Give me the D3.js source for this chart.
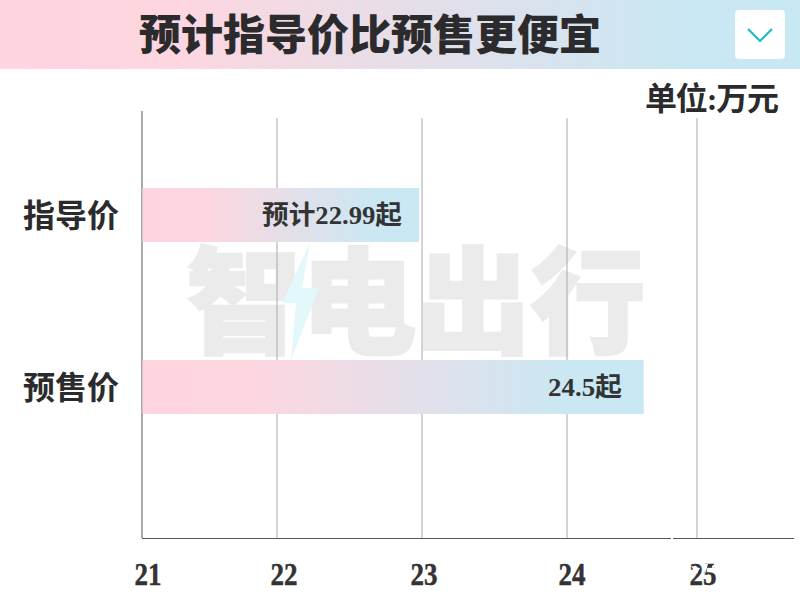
<!DOCTYPE html>
<html><head><meta charset="utf-8">
<script src="https://cdn.jsdelivr.net/npm/d3@7"></script>
<style>html,body{margin:0;padding:0;background:#fff;overflow:hidden}svg{display:block}</style>
</head><body><svg id="c" width="800" height="600"></svg>
<script>
const title = "预计指导价比预售更便宜";
const unit = "单位:万元";
const categories = ["指导价", "预售价"];
const barValues = [22.98, 24.59];
const barLabels = ["预计22.99起", "24.5起"];
const tickValues = [21, 22, 23, 24, 25];
const tickPositions = [142, 277, 422, 567, 697];
const watermark = ["智", "电", "出", "行"];

const svg = d3.select("#c");
const cjk = "'Noto Sans CJK SC','Noto Sans',sans-serif";
const serif = "'Liberation Serif','Noto Sans CJK SC',serif";
const x = d3.scaleLinear().domain(tickValues).range(tickPositions);
const y = d3.scaleBand().domain(categories).range([188, 414]).paddingInner(0.686);

const defs = svg.append("defs");
function grad(id) {
  const g = defs.append("linearGradient").attr("id", id);
  g.append("stop").attr("offset", "0%").attr("stop-color", "#ffd5df");
  g.append("stop").attr("offset", "22%").attr("stop-color", "#fdd6e0");
  g.append("stop").attr("offset", "85%").attr("stop-color", "#cae8f3");
  g.append("stop").attr("offset", "100%").attr("stop-color", "#c8e8f3");
}
grad("hg"); grad("bg");

// header
svg.append("rect").attr("width", 800).attr("height", 69).attr("fill", "url(#hg)");
svg.append("text").attr("x", 370).attr("y", 50).attr("text-anchor", "middle")
  .attr("font-family", cjk).attr("font-weight", 900).attr("font-size", 42)
  .attr("textLength", 462).attr("fill", "#2b2b2d").text(title);
svg.append("rect").attr("x", 735).attr("y", 10).attr("width", 50).attr("height", 49).attr("rx", 4).attr("fill", "#fff");
svg.append("path").attr("d", "M748,29L760,41L772,29").attr("fill", "none").attr("stroke", "#1fb8cc").attr("stroke-width", 2.2);
svg.append("text").attr("x", 779).attr("y", 110).attr("text-anchor", "end")
  .attr("font-family", serif).attr("font-weight", 700).attr("font-size", 32)
  .attr("textLength", 134).attr("fill", "#2b2b2d").text(unit);

// watermark
const wmX = d3.scalePoint().domain(watermark).range([244, 588]);
svg.append("g").selectAll("text").data(watermark).join("text")
  .attr("x", d => wmX(d)).attr("y", 344).attr("text-anchor", "middle")
  .attr("font-family", cjk).attr("font-weight", 900).attr("font-size", 115)
  .attr("fill", "#ebebeb").attr("stroke", "#ebebeb").attr("stroke-width", 2.5).text(d => d);
svg.append("path").attr("d", "M310,243L282,303L296,303L291,360L319,288L302,288Z").attr("fill", "#e3f8fb");

// grid
svg.append("g").selectAll("line").data(tickValues.slice(1)).join("line")
  .attr("x1", d => x(d)).attr("x2", d => x(d)).attr("y1", 118).attr("y2", 538)
  .attr("stroke", "#a8a8a8").attr("stroke-width", 1);
svg.append("line").attr("x1", x(21)).attr("x2", x(21)).attr("y1", 111).attr("y2", 538).attr("stroke", "#555");
svg.append("line").attr("x1", x(21)).attr("x2", 794).attr("y1", 538.5).attr("y2", 538.5).attr("stroke", "#555").attr("stroke-width", 1.2);

// bars
svg.append("g").selectAll("rect").data(categories).join("rect")
  .attr("x", x(21) + 0.5).attr("y", d => y(d))
  .attr("width", (d, i) => x(barValues[i]) - x(21) - 0.5)
  .attr("height", y.bandwidth()).attr("fill", "url(#bg)");

// tick labels
const tickOffsets = [6, 7, 2, 5, 6];
svg.append("g").selectAll("text").data(tickValues).join("text")
  .attr("x", (d, i) => x(d) + tickOffsets[i]).attr("y", 585).attr("text-anchor", "middle")
  .attr("font-family", serif).attr("font-weight", 700).attr("font-size", 32)
  .attr("textLength", 27).attr("lengthAdjust", "spacingAndGlyphs")
  .attr("fill", "#333").attr("stroke", "#333").attr("stroke-width", 0.5).text(d => d);

// scan defects over the last tick label and the axis
svg.append("g").selectAll("path")
  .data(["M691,566L700,568L697,574Z", "M703,564L708,564L705,574Z", "M712,566L716,563L713,572Z", "M671,536h2v5h-2Z"])
  .join("path").attr("d", d => d).attr("fill", "#fff");

// category labels
svg.append("g").selectAll("text").data(categories).join("text")
  .attr("x", 71).attr("y", d => y(d) + y.bandwidth() / 2 + 12).attr("text-anchor", "middle")
  .attr("font-family", serif).attr("font-weight", 700).attr("font-size", 32)
  .attr("fill", "#2b2b2d").text(d => d);

// value labels
const labelRight = [402, 622];
const labelWidths = [140, 74];
svg.append("g").selectAll("text").data(barLabels).join("text")
  .attr("x", (d, i) => labelRight[i]).attr("y", (d, i) => y(categories[i]) + y.bandwidth() / 2 + 9)
  .attr("text-anchor", "end")
  .attr("font-family", serif).attr("font-weight", 700).attr("font-size", 26)
  .attr("textLength", (d, i) => labelWidths[i]).attr("lengthAdjust", "spacingAndGlyphs")
  .attr("fill", "#333").text(d => d);
</script></body></html>
